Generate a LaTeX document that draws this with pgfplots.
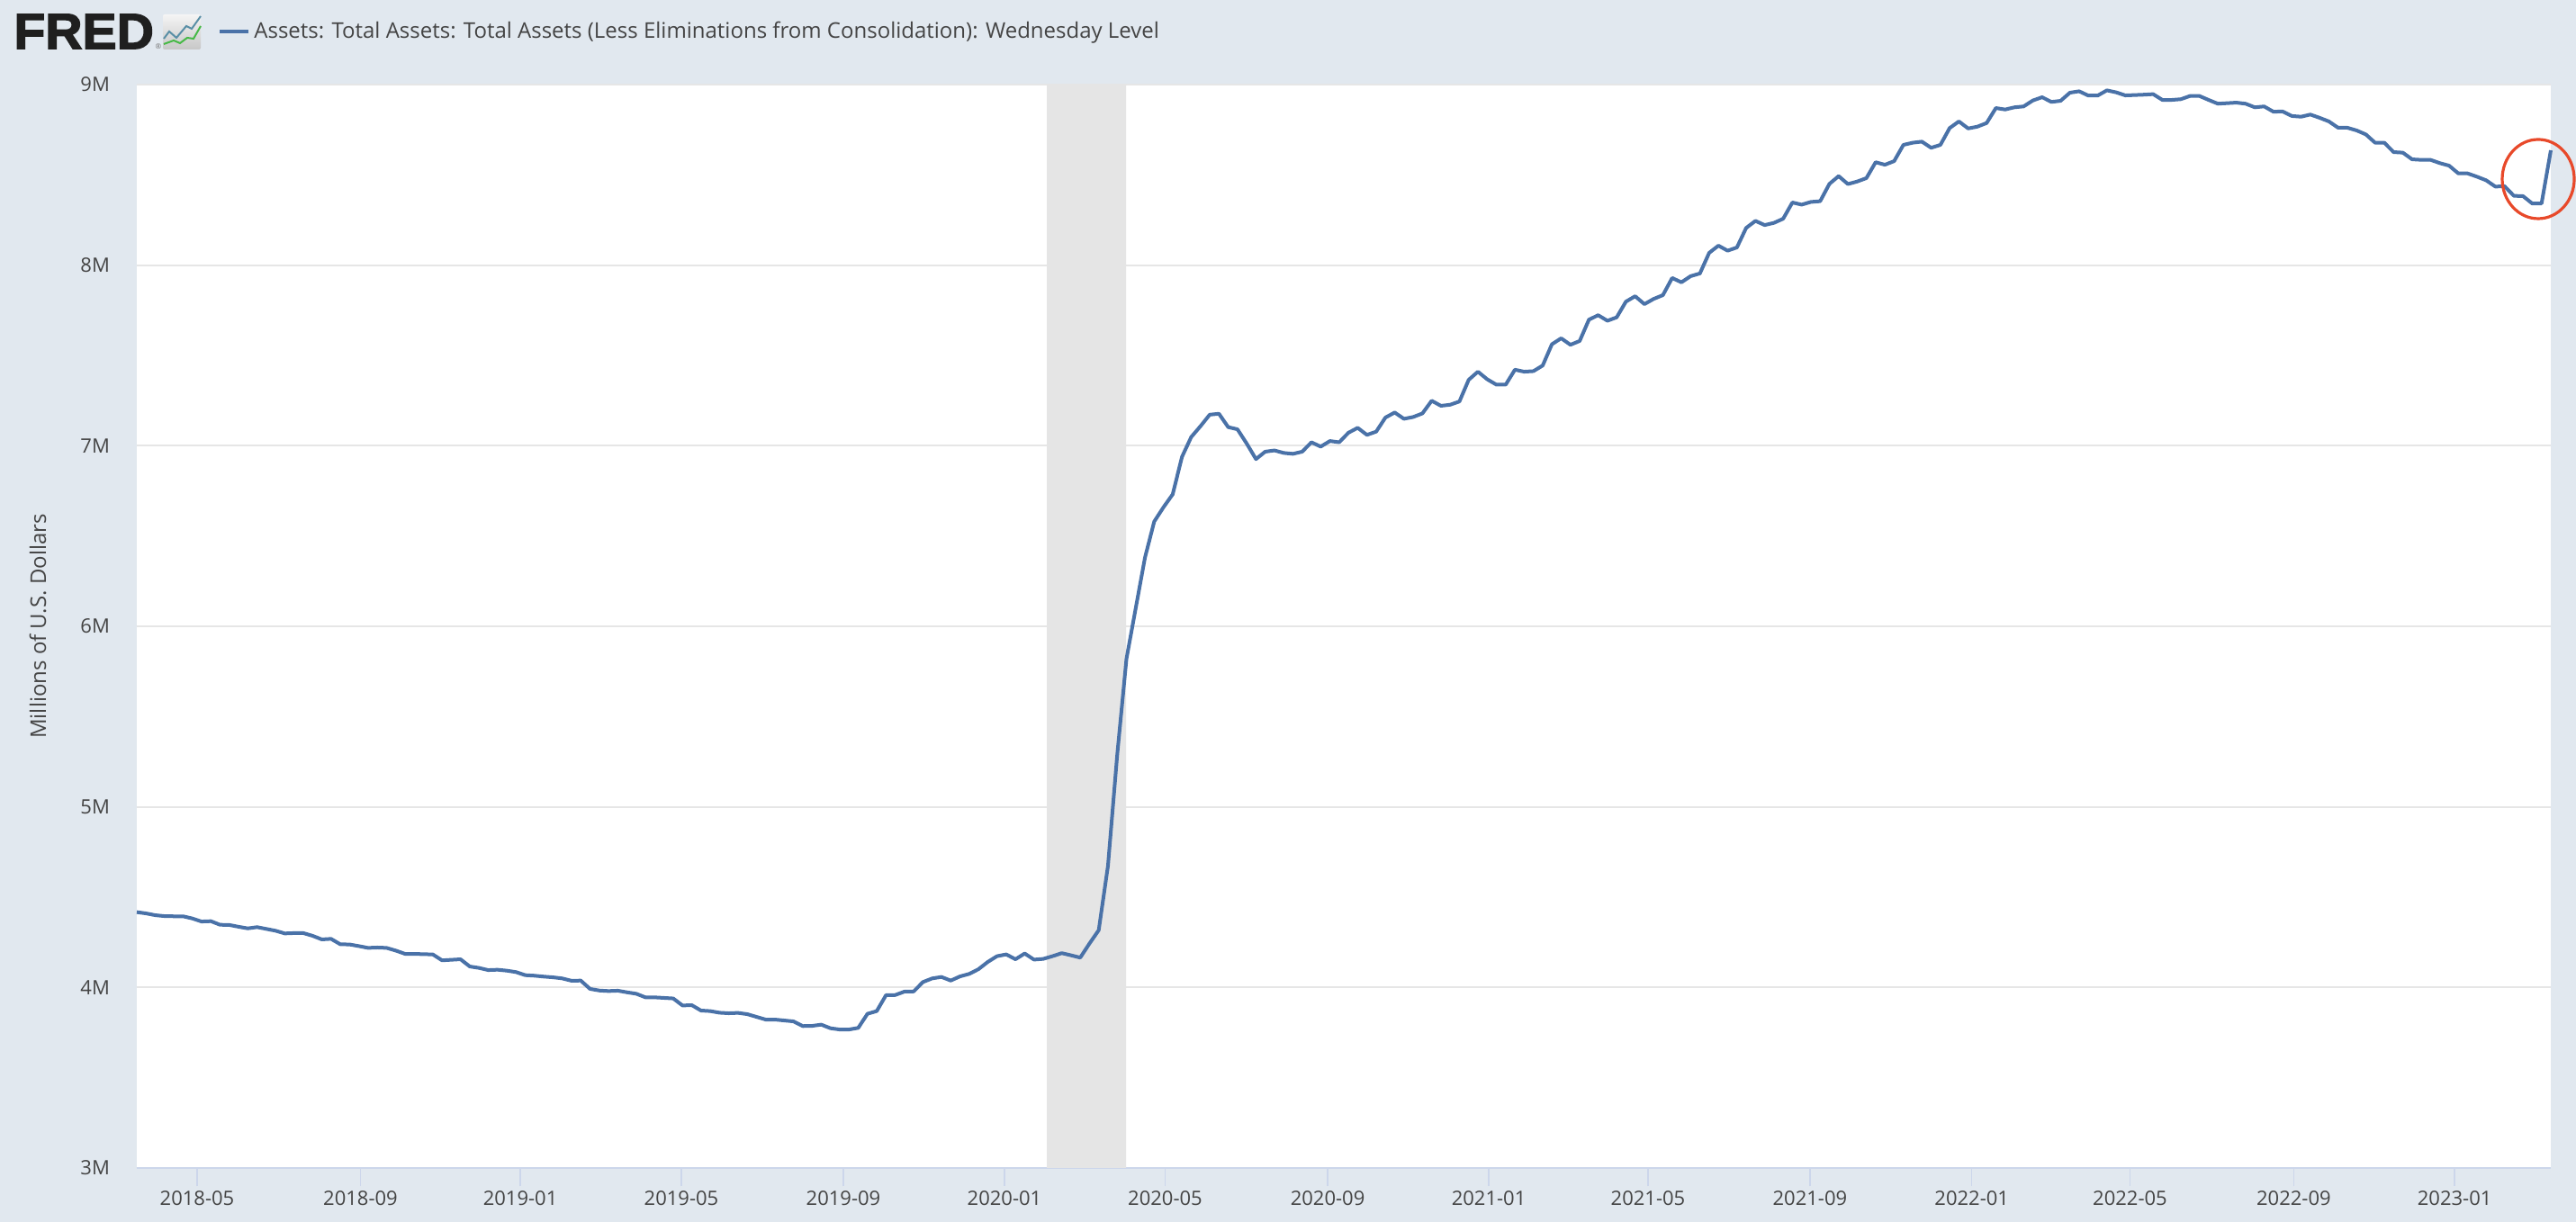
\documentclass[border=0pt]{standalone}
\usepackage{fontspec}
\setmainfont{Open Sans}
\newfontfamily\fredfont[FakeBold=2.5,FakeStretch=1.02]{Liberation Sans Bold}
\usepackage{pgfplots}
\usepackage{pgfplotstable}
\pgfplotsset{compat=1.18}
\definecolor{pagebg}{HTML}{E1E8EF}
\definecolor{fredblue}{HTML}{4A72A8}
\definecolor{gridc}{HTML}{E6E6E6}
\definecolor{axisc}{HTML}{CCD6EB}
\definecolor{bandc}{HTML}{E5E5E5}
\definecolor{textc}{HTML}{444444}
\definecolor{circlec}{HTML}{E8492A}

% weekly level, in trillions (axis labels 3M..9M), week 0 = 2018-03-14
\pgfplotstableread[row sep=\\]{
w v\\
0 4.417\\ 1 4.410\\ 2 4.400\\ 3 4.395\\ 4 4.394\\ 5 4.394\\ 6 4.382\\ 7 4.365\\ 8 4.367\\ 9 4.347\\
10 4.346\\ 11 4.336\\ 12 4.327\\ 13 4.334\\ 14 4.324\\ 15 4.314\\ 16 4.299\\ 17 4.301\\ 18 4.301\\ 19 4.286\\
20 4.266\\ 21 4.269\\ 22 4.239\\ 23 4.238\\ 24 4.229\\ 25 4.219\\ 26 4.221\\ 27 4.219\\ 28 4.204\\ 29 4.186\\
30 4.186\\ 31 4.184\\ 32 4.183\\ 33 4.150\\ 34 4.153\\ 35 4.156\\ 36 4.116\\ 37 4.108\\ 38 4.096\\ 39 4.098\\
40 4.093\\ 41 4.085\\ 42 4.068\\ 43 4.065\\ 44 4.060\\ 45 4.056\\ 46 4.050\\ 47 4.037\\ 48 4.038\\ 49 3.992\\
50 3.983\\ 51 3.980\\ 52 3.982\\ 53 3.973\\ 54 3.965\\ 55 3.945\\ 56 3.945\\ 57 3.942\\ 58 3.939\\ 59 3.900\\
60 3.902\\ 61 3.872\\ 62 3.869\\ 63 3.860\\ 64 3.857\\ 65 3.859\\ 66 3.852\\ 67 3.837\\ 68 3.822\\ 69 3.822\\
70 3.817\\ 71 3.812\\ 72 3.786\\ 73 3.787\\ 74 3.794\\ 75 3.774\\ 76 3.767\\ 77 3.767\\ 78 3.776\\ 79 3.854\\
80 3.869\\ 81 3.957\\ 82 3.958\\ 83 3.977\\ 84 3.978\\ 85 4.030\\ 86 4.050\\ 87 4.058\\ 88 4.038\\ 89 4.061\\
90 4.075\\ 91 4.101\\ 92 4.141\\ 93 4.173\\ 94 4.183\\ 95 4.156\\ 96 4.188\\ 97 4.154\\ 98 4.158\\ 99 4.173\\
100 4.190\\ 101 4.178\\ 102 4.165\\ 103 4.243\\ 104 4.317\\ 105 4.673\\ 106 5.288\\ 107 5.820\\ 108 6.100\\ 109 6.380\\
110 6.580\\ 111 6.659\\ 112 6.731\\ 113 6.938\\ 114 7.048\\ 115 7.108\\ 116 7.172\\ 117 7.177\\ 118 7.103\\ 119 7.091\\
120 7.012\\ 121 6.926\\ 122 6.967\\ 123 6.974\\ 124 6.960\\ 125 6.955\\ 126 6.967\\ 127 7.019\\ 128 6.995\\ 129 7.026\\
130 7.019\\ 131 7.072\\ 132 7.099\\ 133 7.060\\ 134 7.078\\ 135 7.156\\ 136 7.184\\ 137 7.149\\ 138 7.159\\ 139 7.179\\
140 7.249\\ 141 7.221\\ 142 7.227\\ 143 7.245\\ 144 7.365\\ 145 7.410\\ 146 7.368\\ 147 7.338\\ 148 7.338\\ 149 7.421\\
150 7.410\\ 151 7.413\\ 152 7.444\\ 153 7.562\\ 154 7.595\\ 155 7.559\\ 156 7.580\\ 157 7.698\\ 158 7.723\\ 159 7.692\\
160 7.711\\ 161 7.798\\ 162 7.828\\ 163 7.784\\ 164 7.813\\ 165 7.834\\ 166 7.929\\ 167 7.905\\ 168 7.939\\ 169 7.954\\
170 8.068\\ 171 8.108\\ 172 8.080\\ 173 8.098\\ 174 8.206\\ 175 8.245\\ 176 8.222\\ 177 8.234\\ 178 8.257\\ 179 8.347\\
180 8.335\\ 181 8.350\\ 182 8.354\\ 183 8.450\\ 184 8.493\\ 185 8.449\\ 186 8.463\\ 187 8.482\\ 188 8.570\\ 189 8.556\\
190 8.576\\ 191 8.666\\ 192 8.678\\ 193 8.684\\ 194 8.650\\ 195 8.666\\ 196 8.759\\ 197 8.796\\ 198 8.757\\ 199 8.767\\
200 8.787\\ 201 8.870\\ 202 8.862\\ 203 8.874\\ 204 8.879\\ 205 8.912\\ 206 8.930\\ 207 8.904\\ 208 8.910\\ 209 8.955\\
210 8.963\\ 211 8.939\\ 212 8.939\\ 213 8.968\\ 214 8.957\\ 215 8.940\\ 216 8.942\\ 217 8.944\\ 218 8.947\\ 219 8.915\\
220 8.915\\ 221 8.919\\ 222 8.937\\ 223 8.937\\ 224 8.915\\ 225 8.894\\ 226 8.897\\ 227 8.900\\ 228 8.894\\ 229 8.874\\
230 8.879\\ 231 8.850\\ 232 8.851\\ 233 8.826\\ 234 8.822\\ 235 8.834\\ 236 8.816\\ 237 8.796\\ 238 8.761\\ 239 8.761\\
240 8.746\\ 241 8.724\\ 242 8.678\\ 243 8.678\\ 244 8.626\\ 245 8.623\\ 246 8.586\\ 247 8.583\\ 248 8.583\\ 249 8.565\\
250 8.551\\ 251 8.508\\ 252 8.508\\ 253 8.490\\ 254 8.470\\ 255 8.435\\ 256 8.437\\ 257 8.384\\ 258 8.382\\ 259 8.341\\
260 8.342\\ 261 8.636\\
}\assets

\begin{document}
\begin{tikzpicture}
% image pixels: 0.5pt each, origin at the lower left of the plot area
\useasboundingbox (-76pt,-30pt) rectangle (1355pt,649pt);
\fill[pagebg] (-76pt,-30pt) rectangle (1355pt,649pt);
\begin{axis}[
    scale only axis,
    width=1341pt, height=602pt,
    at={(0pt,0pt)}, anchor=south west,
    clip=false,
    xmin=0, xmax=261, ymin=3, ymax=9,
    axis background/.style={fill=white},
    axis x line=bottom, axis y line=left,
    x axis line style={draw=axisc, line width=1pt, -},
    y axis line style={draw=none},
    xtick={6.52,24.18,41.46,58.87,76.39,93.81,111.18,128.75,146.17,163.39,180.9,198.4,215.5,233.2,250.6},
    xticklabels={2018-05,2018-09,2019-01,2019-05,2019-09,2020-01,2020-05,2020-09,2021-01,2021-05,2021-09,2022-01,2022-05,2022-09,2023-01},
    ytick={3,4,5,6,7,8,9},
    yticklabels={3M,4M,5M,6M,7M,8M,9M},
    tick align=outside,
    major tick length=10pt,
    x tick style={draw=axisc, line width=0.7pt},
    y tick style={draw=none},
    ymajorgrids,
    grid style={draw=gridc, line width=1pt},
    tick label style={font=\fontsize{11}{13}\selectfont, text=textc},
    xticklabel style={yshift=1pt},
    yticklabel style={xshift=-1.5pt},
    ylabel={Millions of U.S. Dollars},
    every axis y label/.style={at={(axis description cs:-0.041,0.5)}, rotate=90, anchor=center, font=\fontsize{12}{14}\selectfont, text=textc},
    legend style={at={(45pt,631.5pt)}, anchor=west, draw=none, fill=none, inner sep=0pt, font=\fontsize{12}{14}\selectfont, text=textc},
    legend image code/.code={\draw[#1] (0pt,0pt) -- (16pt,0pt);},
    legend cell align=left,
]
\addplot[fill=bandc, draw=none, forget plot] coordinates {(98.4,3) (98.4,9) (106.95,9) (106.95,3)} \closedcycle;
\addplot[color=fredblue, line width=2pt, line join=round] table[x=w, y=v] {\assets};
\legend{Assets: Total Assets: Total Assets (Less Eliminations from Consolidation): Wednesday Level}
\end{axis}
% annotation circle and FRED logo, in image pixels
\begin{scope}[shift={(-76pt,649pt)}, x=0.5pt, y=-0.5pt]
\draw[circlec, line width=1.6pt] (2820,199) ellipse (40 and 44);
\node[anchor=west, inner sep=0pt, text=black!88, font=\fredfont\fontsize{28}{30}\selectfont] at (15,35) {FRED};
\node[anchor=center, inner sep=0pt, text=black!55, font=\fontsize{4}{4}\selectfont] at (176,52) {\textregistered};
\shade[top color=black!4, bottom color=black!22, rounded corners=1pt] (181,16) rectangle (223,55);
\draw[color=blue!30!cyan!30!gray, line width=1pt] (182,43) -- (188,35) -- (196,42) -- (207,29) -- (213,32) -- (223,18);
\draw[color=green!45!gray, line width=1pt] (182,49) -- (193,45) -- (200,48) -- (208,42) -- (215,43) -- (223,29);
\end{scope}
\end{tikzpicture}
\end{document}
